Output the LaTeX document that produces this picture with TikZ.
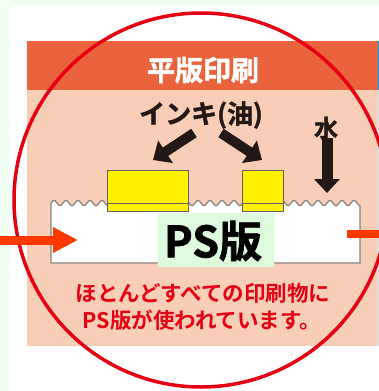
\documentclass[tikz,border=0pt]{standalone}
\usepackage{fontspec}
\newfontfamily\jp{Noto Sans CJK JP}[BoldFont={Noto Sans CJK JP Bold}]
\newfontfamily\jpheavy{Noto Sans CJK JP Bold}[FakeBold=1.6]
\usetikzlibrary{arrows.meta}
\definecolor{bggreen}{HTML}{F0FFF2}
\definecolor{peach}{HTML}{F8CEB6}
\definecolor{header}{HTML}{EB633D}
\definecolor{redc}{HTML}{E60012}
\definecolor{arrowred}{HTML}{FF3800}
\definecolor{darkc}{HTML}{231815}
\definecolor{yel}{HTML}{FFF100}
\definecolor{greenbg}{HTML}{DDFADD}
\definecolor{plategray}{HTML}{8A8280}
\definecolor{blueedge}{HTML}{00A0E9}
\definecolor{lightblue}{HTML}{CDE8F5}
\tikzset{
  jptext/.style={font=\jp\bfseries, inner sep=0pt, align=center},
  darrow/.style={draw=darkc, line width=10pt, -{Triangle[length=15pt,width=26pt]}},
  redarrow/.style={draw=arrowred, line width=9pt, -{Triangle[length=25pt,width=24pt]}},
  yblock/.style={fill=yel, draw=darkc!70, line width=0.8pt},
}
\begin{document}
\begin{tikzpicture}[x=1pt,y=-1pt]
\useasboundingbox (0,0) rectangle (379,391);
\fill[bggreen] (0,0) rectangle (379,391);
\fill[white] (10,5) rectangle (379,391);
\fill[peach] (27,41) rectangle (378,346);
\fill[header] (27,41) rectangle (378,90);
\fill[blueedge] (378,41) rectangle (379,90);
\fill[lightblue] (378,90) rectangle (379,346);
% red circle
\draw[redc, line width=3.5pt] (201,200) circle[radius=187pt];
% title
\node[jptext, text=white, font=\jpheavy\fontsize{28}{32}\selectfont] (title) at (203,70) {平版印刷};
\node[jptext, text=darkc, font=\jpheavy\fontsize{26}{30}\selectfont] (ink) at (201,115) {インキ(油)};
\node[jptext, text=darkc, font=\jpheavy\fontsize{24}{28}\selectfont] (water) at (326,128) {水};
% plate
\draw[plategray, line width=1.3pt, fill=white] (51,263) -- (51,203) -- plot[domain=51:360, samples=700, smooth] (\x,{203-2.5*sin((\x-51)*30)}) -- (360,263) -- cycle;
% yellow ink blocks
\filldraw[yblock] (107,170) rectangle (188,211);
\draw[darkc!70, line width=0.8pt] (107,203) -- (188,203);
\filldraw[yblock] (242,170) rectangle (283,211);
\draw[darkc!70, line width=0.8pt] (242,203) -- (283,203);
% dark arrows
\coordinate (a1s) at (194,133);
\coordinate (a1e) at (153,160);
\coordinate (a2s) at (221,133);
\coordinate (a2e) at (262,160);
\coordinate (ws) at (327,138);
\coordinate (we) at (327,193);
\draw[darrow] (a1s) -- (a1e);
\draw[darrow] (a2s) -- (a2e);
\draw[darrow, line width=11pt, -{Triangle[length=14pt,width=25pt]}] (ws) -- (we);
% PS label
\node[fill=greenbg, minimum width=116pt, minimum height=54pt, inner sep=0pt] (psbg) at (216,240) {};
\node[jptext, text=black, font=\jpheavy\fontsize{43}{47}\selectfont] (ps) at (213,241) {PS版};
% red arrows
\coordinate (r1s) at (0,240);
\coordinate (r1e) at (78,240);
\coordinate (r2s) at (347,234);
\coordinate (r2e) at (379,234);
\draw[redarrow] (r1s) -- (r1e);
\draw[arrowred, line width=8pt] (r2s) -- (r2e);
% bottom text
\node[jptext, text=redc, font=\jp\bfseries\fontsize{21.5}{27}\selectfont] (l1) at (203,293) {ほとんどすべての印刷物に};
\node[jptext, text=redc, font=\jp\bfseries\fontsize{21.5}{27}\selectfont] (l2) at (202,320) {PS版が使われています。};
\end{tikzpicture}
\end{document}
